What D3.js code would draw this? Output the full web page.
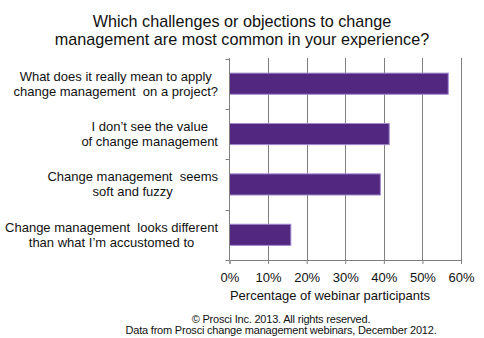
<!DOCTYPE html>
<html><head><meta charset="utf-8">
<script src="https://cdn.jsdelivr.net/npm/d3@7"></script>
<style>body{margin:0;background:#fff}svg{display:block;font-family:"Liberation Sans",Arial,sans-serif}</style>
</head><body><svg id="c" width="484" height="338"></svg>
<script>
const titleLines = ["Which challenges or objections to change", "management are most common in your experience?"];
const categories = [
  ["What does it really mean to apply", "change management  on a project?"],
  ["I don\u2019t see the value", "of change management"],
  ["Change management  seems", "soft and fuzzy"],
  ["Change management  looks different", "than what I\u2019m accustomed to"]
];
const values = [56.7, 41.4, 39.1, 15.9];
const xTicks = [0, 10, 20, 30, 40, 50, 60];
const xTitle = "Percentage of webinar participants";
const footer = ["\u00A9 Prosci Inc. 2013. All rights reserved.", "Data from Prosci change management webinars, December 2012."];

const svg = d3.select("#c");
const x = d3.scaleLinear().domain([0, 60]).range([229.5, 461]);
const y = d3.scaleBand().domain(d3.range(categories.length)).range([58.5, 260]).paddingInner(0.58).paddingOuter(0.29);
const axisColor = "#808080";

// title
svg.append("text").attr("x", 242).attr("y", 27).attr("text-anchor", "middle")
  .attr("font-size", 16.2).attr("fill", "#111")
  .selectAll("tspan").data(titleLines).join("tspan")
  .attr("x", 242).attr("dy", (d, i) => i ? 18 : 0).text(d => d);

// gridlines
svg.append("g").selectAll("line").data(xTicks.slice(1)).join("line")
  .attr("x1", d => Math.round(x(d)) + 0.5).attr("x2", d => Math.round(x(d)) + 0.5)
  .attr("y1", 58).attr("y2", 260).attr("stroke", axisColor).attr("stroke-width", 1);

// bars
svg.append("g").selectAll("rect").data(values).join("rect")
  .attr("x", x(0)).attr("y", (d, i) => y(i))
  .attr("width", d => x(d) - x(0)).attr("height", y.bandwidth())
  .attr("fill", "#512780").attr("stroke", "#a38bcf").attr("stroke-width", 1);

// x axis
const xAxis = d3.axisBottom(x).tickValues(xTicks).tickFormat(d => d + "%").tickSize(4).tickPadding(9);
const gx = svg.append("g").attr("transform", "translate(0,260)").call(xAxis);
gx.select(".domain").attr("stroke", axisColor);
gx.selectAll(".tick line").attr("stroke", axisColor);
gx.selectAll(".tick text").attr("font-size", 13).attr("fill", "#111").attr("font-family", "Liberation Sans, Arial, sans-serif");

// y axis line and ticks at band boundaries
const step = y.step();
const bounds = d3.range(categories.length + 1).map(i => 58.5 + i * step);
svg.append("line").attr("x1", 229.5).attr("x2", 229.5).attr("y1", 58).attr("y2", 260).attr("stroke", axisColor);
svg.append("g").selectAll("line").data(bounds).join("line")
  .attr("x1", 225.5).attr("x2", 229.5)
  .attr("y1", d => Math.round(d) + 0.5).attr("y2", d => Math.round(d) + 0.5)
  .attr("stroke", axisColor);

// category labels
const labelRight = 218;
categories.forEach((lines, i) => {
  const cy = y(i) + y.bandwidth() / 2;
  const t = svg.append("text").attr("font-size", 13).attr("fill", "#111").attr("text-anchor", "middle");
  const spans = t.selectAll("tspan").data(lines).join("tspan")
    .attr("y", (d, j) => cy - 3 + j * 15).attr("xml:space", "preserve").style("white-space", "pre").text(d => d);
  let maxW = 0;
  spans.each(function () { maxW = Math.max(maxW, this.getComputedTextLength()); });
  spans.attr("x", labelRight - maxW / 2);
});

// axis title
svg.append("text").attr("x", 330).attr("y", 300).attr("text-anchor", "middle")
  .attr("font-size", 13).attr("fill", "#111").text(xTitle);

// footer
svg.append("text").attr("text-anchor", "middle").attr("font-size", 11).attr("fill", "#111")
  .attr("letter-spacing", -0.2)
  .selectAll("tspan").data(footer).join("tspan")
  .attr("x", 281).attr("y", (d, i) => 322.5 + i * 11).text(d => d);
</script></body></html>
